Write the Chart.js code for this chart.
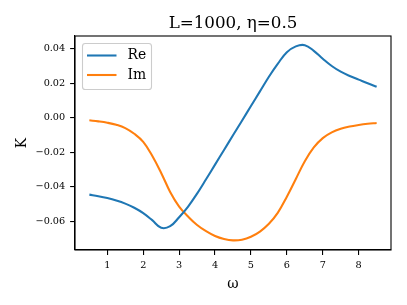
<!DOCTYPE html>
<html><head><meta charset="utf-8">
<script src="https://cdn.jsdelivr.net/npm/chart.js@4/dist/chart.umd.min.js"></script>
<style>html,body{margin:0;padding:0;background:#fff}#c{display:block}</style>
</head><body>
<canvas id="c" width="407" height="305"></canvas>
<script>
const omega = [0.5,0.75,1.0,1.25,1.5,1.75,2.0,2.25,2.5,2.75,3.0,3.25,3.5,3.75,4.0,4.25,4.5,4.75,5.0,5.25,5.5,5.75,6.0,6.25,6.5,6.75,7.0,7.25,7.5,7.75,8.0,8.25,8.5];
const reK = [-0.0446,-0.0455,-0.0466,-0.0480,-0.0498,-0.0522,-0.0553,-0.0594,-0.0638,-0.0629,-0.0577,-0.0515,-0.0440,-0.0357,-0.0272,-0.0187,-0.0102,-0.0017,0.0068,0.0153,0.0238,0.0314,0.0380,0.0414,0.0421,0.0388,0.0342,0.0300,0.0267,0.0242,0.0221,0.0200,0.0180];
const imK = [-0.0015,-0.0021,-0.0029,-0.0041,-0.0060,-0.0093,-0.0140,-0.0220,-0.0320,-0.0430,-0.0515,-0.0573,-0.0622,-0.0658,-0.0686,-0.0703,-0.0711,-0.0707,-0.0690,-0.0660,-0.0615,-0.0550,-0.0458,-0.0355,-0.0252,-0.0172,-0.0118,-0.0085,-0.0064,-0.0051,-0.0042,-0.0035,-0.0030];
const xTicks = [1,2,3,4,5,6,7,8];
const yTicks = [-0.06,-0.04,-0.02,0.00,0.02,0.04];
const seriesNames = ['Re','Im'];
const seriesColors = ['#1f77b4','#ff7f0e'];
const titleText = 'L=1000, η=0.5';
const xLabel = 'ω';
const yLabel = 'K';

const SERIF = "'DejaVu Serif', serif";

const decor = {
  id: 'decor',
  afterDraw(chart) {
    const ctx = chart.ctx, a = chart.chartArea;
    ctx.save();
    ctx.strokeStyle = '#000'; ctx.lineWidth = 1.1;
    ctx.strokeRect(a.left, a.top, a.right - a.left, a.bottom - a.top);
    ctx.fillStyle = '#000';
    ctx.font = '16.7px ' + SERIF;
    ctx.textAlign = 'center'; ctx.textBaseline = 'alphabetic';
    ctx.fillText(titleText, (a.left + a.right) / 2, a.top - 8.3);
    const bx = a.left + 7.5, by = a.top + 7.5, bw = 69, bh = 46, r = 2.8;
    ctx.beginPath();
    ctx.moveTo(bx + r, by);
    ctx.lineTo(bx + bw - r, by); ctx.arcTo(bx + bw, by, bx + bw, by + r, r);
    ctx.lineTo(bx + bw, by + bh - r); ctx.arcTo(bx + bw, by + bh, bx + bw - r, by + bh, r);
    ctx.lineTo(bx + r, by + bh); ctx.arcTo(bx, by + bh, bx, by + bh - r, r);
    ctx.lineTo(bx, by + r); ctx.arcTo(bx, by, bx + r, by, r);
    ctx.closePath();
    ctx.fillStyle = 'rgba(255,255,255,0.8)'; ctx.fill();
    ctx.strokeStyle = '#cccccc'; ctx.lineWidth = 1.1; ctx.stroke();
    ctx.font = '13.9px ' + SERIF;
    ctx.textAlign = 'left'; ctx.textBaseline = 'middle';
    seriesNames.forEach((n, i) => {
      const y = by + 12 + i * 19.5;
      ctx.strokeStyle = seriesColors[i]; ctx.lineWidth = 2.08;
      ctx.beginPath(); ctx.moveTo(bx + 4.5, y); ctx.lineTo(bx + 34, y); ctx.stroke();
      ctx.fillStyle = '#000';
      ctx.fillText(n, bx + 45, y);
    });
    ctx.restore();
  }
};

new Chart(document.getElementById('c'), {
  type: 'line',
  data: {
    datasets: [reK, imK].map((arr, i) => ({
      label: seriesNames[i],
      data: omega.map((w, j) => ({x: w, y: arr[j]})),
      borderColor: seriesColors[i],
      backgroundColor: seriesColors[i],
      borderWidth: 2.08,
      pointRadius: 0,
      fill: false,
      tension: 0.4
    }))
  },
  options: {
    responsive: false,
    devicePixelRatio: 1,
    animation: false,
    layout: {padding: {left: 0, right: 16, top: 36, bottom: 0}},
    plugins: {legend: {display: false}, title: {display: false}, tooltip: {enabled: false}},
    scales: {
      x: {
        type: 'linear', min: 0.1, max: 8.9,
        afterBuildTicks: s => { s.ticks = xTicks.map(v => ({value: v})); },
        afterFit: s => { s.height = 55; },
        ticks: {font: {family: SERIF, size: 9.7}, color: '#000', padding: 4.9, maxRotation: 0, autoSkip: false, callback: v => String(v)},
        grid: {display: true, drawOnChartArea: false, drawTicks: true, tickLength: 4.9, color: '#000', lineWidth: 1.1},
        border: {display: true, color: '#000', width: 1.1},
        title: {display: true, text: xLabel, font: {family: SERIF, size: 13.9}, color: '#000', padding: {top: 0, bottom: 12.5}}
      },
      y: {
        type: 'linear', min: -0.0767, max: 0.0474,
        afterBuildTicks: s => { s.ticks = yTicks.map(v => ({value: v})); },
        afterFit: s => { s.width = 75; },
        ticks: {font: {family: SERIF, size: 9.7}, color: '#000', padding: 4.9, autoSkip: false,
          callback: v => (v < -1e-9 ? '\u2212' : '') + Math.abs(v).toFixed(2)},
        grid: {display: true, drawOnChartArea: false, drawTicks: true, tickLength: 4.9, color: '#000', lineWidth: 1.1},
        border: {display: true, color: '#000', width: 1.1},
        title: {display: true, text: yLabel, font: {family: SERIF, size: 13.9}, color: '#000', padding: {top: 13.7, bottom: 0}}
      }
    }
  },
  plugins: [decor]
});
</script>
</body></html>
